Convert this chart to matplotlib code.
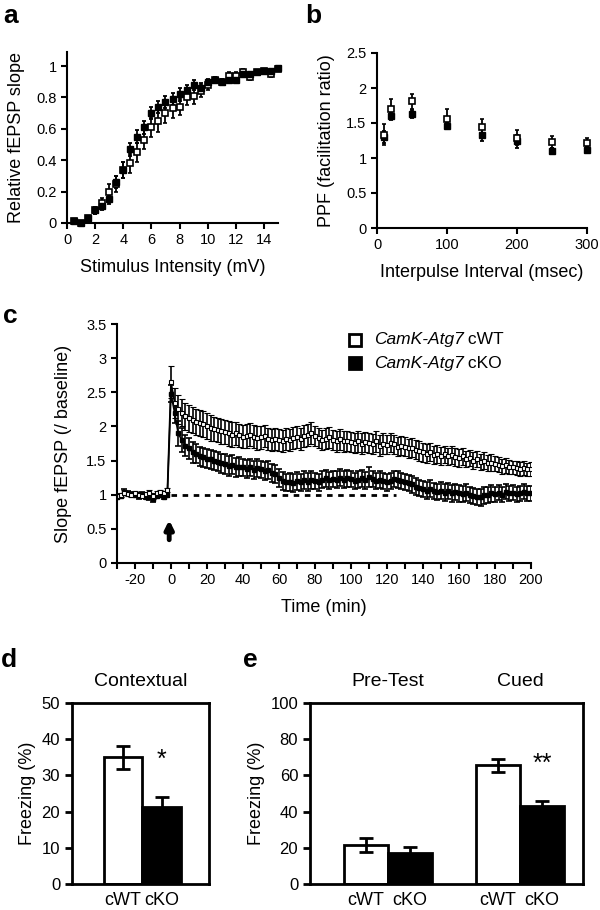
import numpy as np
import matplotlib
matplotlib.use('Agg')
import matplotlib.pyplot as plt

plt.rcParams['font.family'] = ['Liberation Sans', 'DejaVu Sans']
plt.rcParams['axes.unicode_minus'] = False

# ---- a: input/output curve ----
stim_mv = [0.5, 1.0, 1.5, 2.0, 2.5, 3.0, 3.5, 4.0, 4.5, 5.0, 5.5, 6.0, 6.5, 7.0, 7.5,
           8.0, 8.5, 9.0, 9.5, 10.0, 10.5, 11.0, 11.5, 12.0, 12.5, 13.0, 13.5, 14.0, 14.5, 15.0]
wt_io = [0.01, 0.00, 0.03, 0.08, 0.13, 0.20, 0.25, 0.34, 0.38, 0.45, 0.53, 0.61, 0.65, 0.70, 0.73,
         0.74, 0.80, 0.81, 0.84, 0.88, 0.91, 0.90, 0.94, 0.94, 0.96, 0.93, 0.96, 0.97, 0.95, 0.98]
wt_io_err = [0.01, 0.01, 0.01, 0.02, 0.03, 0.05, 0.05, 0.05, 0.06, 0.06, 0.06, 0.06, 0.07, 0.06, 0.06,
             0.05, 0.05, 0.05, 0.04, 0.03, 0.02, 0.02, 0.02, 0.02, 0.02, 0.02, 0.01, 0.01, 0.02, 0.01]
ko_io = [0.01, 0.00, 0.03, 0.08, 0.11, 0.15, 0.26, 0.34, 0.47, 0.55, 0.61, 0.70, 0.74, 0.77, 0.79,
         0.82, 0.85, 0.88, 0.86, 0.90, 0.91, 0.90, 0.91, 0.91, 0.95, 0.95, 0.96, 0.97, 0.97, 0.99]
ko_io_err = [0.01, 0.01, 0.01, 0.02, 0.03, 0.03, 0.04, 0.05, 0.04, 0.04, 0.04, 0.04, 0.04, 0.04, 0.04,
             0.04, 0.03, 0.03, 0.03, 0.02, 0.02, 0.02, 0.02, 0.02, 0.02, 0.01, 0.01, 0.01, 0.01, 0.01]

# ---- b: paired-pulse facilitation ----
ipi = [10, 20, 50, 100, 150, 200, 250, 300]
wt_ppf = [1.33, 1.70, 1.81, 1.56, 1.45, 1.29, 1.23, 1.22]
wt_ppf_err = [0.15, 0.14, 0.11, 0.14, 0.11, 0.11, 0.09, 0.06]
ko_ppf = [1.30, 1.60, 1.63, 1.46, 1.33, 1.24, 1.10, 1.12]
ko_ppf_err = [0.09, 0.05, 0.06, 0.05, 0.08, 0.09, 0.04, 0.04]

# ---- c: LTP time course (every 2 min) ----
t_base = list(range(-30, 0, 2))
t_post = list(range(0, 201, 2))
wt_base = [0.98, 1.00, 1.03, 1.01, 0.99, 1.02, 1.00, 0.98, 1.01, 1.03, 0.98, 1.02, 1.04, 1.03, 1.07]
ko_base = [0.97, 0.98, 1.04, 1.02, 1.01, 0.99, 0.98, 1.01, 0.97, 0.96, 0.93, 0.98, 0.99, 0.97, 1.00]
base_err = [0.03, 0.03, 0.04, 0.03, 0.03, 0.03, 0.04, 0.03, 0.03, 0.04, 0.04, 0.03, 0.03, 0.03, 0.03]
wt_post = [2.65, 2.35, 2.25, 2.20, 2.15, 2.12, 2.10, 2.07, 2.05, 2.03,
           2.00, 1.98, 1.96, 1.95, 1.93, 1.92, 1.90, 1.88, 1.90, 1.87,
           1.85, 1.86, 1.88, 1.85, 1.83, 1.84, 1.86, 1.82, 1.80, 1.82,
           1.80, 1.79, 1.82, 1.80, 1.83, 1.85, 1.82, 1.86, 1.88, 1.90,
           1.86, 1.83, 1.80, 1.82, 1.84, 1.80, 1.78, 1.81, 1.78, 1.79,
           1.77, 1.76, 1.78, 1.75, 1.77, 1.76, 1.74, 1.78, 1.72, 1.75,
           1.73, 1.76, 1.74, 1.70, 1.72, 1.70, 1.68, 1.69, 1.66, 1.64,
           1.62, 1.60, 1.63, 1.58, 1.60, 1.57, 1.59, 1.56, 1.58, 1.55,
           1.54, 1.56, 1.52, 1.54, 1.50, 1.52, 1.48, 1.50, 1.46, 1.47,
           1.45, 1.44, 1.42, 1.43, 1.41, 1.40, 1.39, 1.38, 1.39, 1.37,
           1.38]
wt_post_err = [0.23, 0.22, 0.21, 0.20, 0.20, 0.20, 0.19, 0.19, 0.19, 0.19,
               0.19, 0.19, 0.18, 0.18, 0.18, 0.18, 0.18, 0.18, 0.17, 0.17,
               0.17, 0.17, 0.17, 0.17, 0.17, 0.17, 0.16, 0.16, 0.16, 0.16,
               0.16, 0.16, 0.16, 0.16, 0.16, 0.16, 0.16, 0.16, 0.16, 0.16,
               0.15, 0.15, 0.15, 0.15, 0.15, 0.15, 0.15, 0.15, 0.15, 0.15,
               0.15, 0.15, 0.15, 0.15, 0.15, 0.15, 0.15, 0.15, 0.15, 0.15,
               0.14, 0.14, 0.14, 0.14, 0.14, 0.14, 0.14, 0.14, 0.14, 0.14,
               0.14, 0.14, 0.13, 0.13, 0.13, 0.13, 0.13, 0.13, 0.13, 0.13,
               0.13, 0.13, 0.12, 0.12, 0.12, 0.12, 0.12, 0.12, 0.12, 0.12,
               0.11, 0.11, 0.11, 0.11, 0.10, 0.10, 0.10, 0.10, 0.10, 0.10,
               0.10]
ko_post = [2.48, 2.20, 1.90, 1.80, 1.72, 1.68, 1.62, 1.60, 1.56, 1.55,
           1.53, 1.52, 1.50, 1.48, 1.46, 1.45, 1.42, 1.44, 1.40, 1.41,
           1.40, 1.38, 1.40, 1.36, 1.39, 1.37, 1.35, 1.36, 1.32, 1.30,
           1.25, 1.20, 1.18, 1.19, 1.17, 1.20, 1.18, 1.21, 1.19, 1.22,
           1.20, 1.18, 1.22, 1.24, 1.21, 1.23, 1.22, 1.25, 1.22, 1.24,
           1.23, 1.20, 1.22, 1.24, 1.21, 1.26, 1.23, 1.20, 1.22, 1.20,
           1.18, 1.20, 1.23, 1.22, 1.20, 1.19, 1.17, 1.15, 1.12, 1.10,
           1.08, 1.06, 1.09, 1.05, 1.04, 1.06, 1.03, 1.05, 1.02, 1.04,
           1.02, 1.01, 1.03, 1.00, 0.98, 0.97, 0.96, 0.99, 1.00, 1.02,
           1.01, 1.03, 1.00, 1.04, 1.02, 1.03, 1.01, 1.02, 1.04, 1.02,
           1.02]
ko_post_err = [0.12, 0.15, 0.18, 0.17, 0.16, 0.15, 0.15, 0.14, 0.14, 0.14,
               0.14, 0.14, 0.14, 0.14, 0.14, 0.14, 0.14, 0.14, 0.14, 0.14,
               0.13, 0.13, 0.13, 0.13, 0.13, 0.13, 0.13, 0.13, 0.13, 0.13,
               0.13, 0.13, 0.13, 0.13, 0.13, 0.13, 0.13, 0.13, 0.13, 0.13,
               0.12, 0.12, 0.12, 0.12, 0.12, 0.12, 0.12, 0.12, 0.12, 0.12,
               0.12, 0.12, 0.12, 0.12, 0.12, 0.14, 0.12, 0.12, 0.12, 0.12,
               0.12, 0.12, 0.12, 0.12, 0.12, 0.12, 0.12, 0.12, 0.12, 0.12,
               0.12, 0.12, 0.12, 0.12, 0.12, 0.12, 0.12, 0.12, 0.12, 0.12,
               0.12, 0.12, 0.12, 0.12, 0.12, 0.12, 0.12, 0.12, 0.12, 0.12,
               0.11, 0.11, 0.11, 0.11, 0.11, 0.11, 0.11, 0.11, 0.11, 0.11,
               0.11]

# ---- d/e: fear conditioning ----
ctx_labels = ['cWT', 'cKO']
ctx_freeze = [35.0, 21.3]
ctx_err = [3.2, 2.7]
cue_labels = ['cWT', 'cKO', 'cWT', 'cKO']
cue_groups = ['Pre-Test', 'Cued']
cue_freeze = [21.5, 17.0, 65.5, 43.0]
cue_err = [4.0, 3.3, 3.5, 3.0]

LBL = 13
TCK = 10.5

fig = plt.figure(figsize=(6, 9.1), dpi=100)


def px_axes(l, t, r, b):
    W, H = 600.0, 910.0
    return fig.add_axes([l / W, 1 - b / H, (r - l) / W, (b - t) / H])


def open_style(ax, lw=1.5):
    for s in ['top', 'right']:
        ax.spines[s].set_visible(False)
    for s in ['left', 'bottom']:
        ax.spines[s].set_linewidth(lw)
    ax.tick_params(direction='out', width=lw, length=4, labelsize=TCK, colors='k')


# panel a
ax = px_axes(67, 52, 278, 223)
open_style(ax)
ax.errorbar(stim_mv, wt_io, yerr=wt_io_err, fmt='s', color='k', mfc='white', ms=4.5, mew=1.2,
            elinewidth=1.3, capsize=1.5, capthick=1.3, clip_on=False)
ax.errorbar(stim_mv, ko_io, yerr=ko_io_err, fmt='s', color='k', mfc='k', ms=5,
            elinewidth=1.3, capsize=1.5, capthick=1.3, clip_on=False)
ax.set_xlim(0, 15)
ax.set_ylim(0, 1.09)
ax.set_xticks(range(0, 15, 2))
ax.set_yticks([0, 0.2, 0.4, 0.6, 0.8, 1.0])
ax.set_yticklabels(['0', '0.2', '0.4', '0.6', '0.8', '1'])
ax.set_xlabel('Stimulus Intensity (mV)', fontsize=LBL, labelpad=8)
ax.set_ylabel('Relative fEPSP slope', fontsize=LBL, labelpad=8)

# panel b
ax = px_axes(377, 53, 587, 228)
open_style(ax)
ax.errorbar(ipi, ko_ppf, yerr=ko_ppf_err, fmt='s', color='k', mfc='k', ms=5,
            elinewidth=1.3, capsize=1.5, capthick=1.3, clip_on=False)
ax.errorbar(ipi, wt_ppf, yerr=wt_ppf_err, fmt='s', color='k', mfc='white', ms=5, mew=1.2,
            elinewidth=1.3, capsize=1.5, capthick=1.3, clip_on=False)
ax.set_xlim(0, 300)
ax.set_ylim(0, 2.5)
ax.set_xticks([0, 100, 200, 300])
ax.set_yticks([0, 0.5, 1, 1.5, 2, 2.5])
ax.set_yticklabels(['0', '0.5', '1', '1.5', '2', '2.5'])
ax.set_xlabel('Interpulse Interval (msec)', fontsize=LBL, labelpad=8)
ax.set_ylabel('PPF (facilitation ratio)', fontsize=LBL, labelpad=8)

# panel c
ax = px_axes(117, 324, 531, 563)
open_style(ax)
t_all = t_base + t_post
ax.plot([0, 125], [1, 1], color='k', lw=2, dashes=(2, 2))
ax.errorbar(t_all, ko_base + ko_post, yerr=base_err + ko_post_err, fmt='s-', color='k', mfc='k',
            ms=3, lw=1.2, elinewidth=1.2, capsize=2, capthick=1.2)
ax.errorbar(t_all, wt_base + wt_post, yerr=base_err + wt_post_err, fmt='s-', color='k', mfc='white',
            ms=3, mew=0.8, lw=1.2, elinewidth=1.2, capsize=2, capthick=1.2)
ax.annotate('', xy=(-1, 0.67), xytext=(-1, 0.30),
            arrowprops=dict(arrowstyle='-|>', lw=3.5, color='k', mutation_scale=12))
ax.set_xlim(-30, 200)
ax.set_ylim(0, 3.5)
ax.set_xticks(range(-20, 201, 20))
ax.set_xticks(range(-30, 201, 10), minor=True)
ax.tick_params(which='minor', direction='out', width=1.5, length=4)
ax.set_yticks([0, 0.5, 1, 1.5, 2, 2.5, 3, 3.5])
ax.set_yticklabels(['0', '0.5', '1', '1.5', '2', '2.5', '3', '3.5'])
ax.set_xlabel('Time (min)', fontsize=LBL, labelpad=8)
ax.set_ylabel('Slope fEPSP (/ baseline)', fontsize=LBL, labelpad=10)

# legend for c, drawn by hand to mix italic and upright text
for i, (face, grp) in enumerate([('white', 'cWT'), ('k', 'cKO')]):
    y = 0.935 - i * 0.1
    ax.plot([0.575], [y], 's', transform=ax.transAxes, ms=9, mfc=face, mec='k', mew=2, clip_on=False)
    t1 = ax.text(0.62, y, 'CamK-Atg7', style='italic', fontsize=12.5, va='center', transform=ax.transAxes)
    ax.annotate(' ' + grp, xy=(1, 0.5), xycoords=t1, va='center', ha='left', fontsize=12.5)


def bar_style(ax):
    for s in ax.spines.values():
        s.set_linewidth(2)
    ax.tick_params(axis='y', direction='out', width=2, length=5, labelsize=12)
    ax.tick_params(axis='x', length=0, labelsize=13, pad=6)


# panel d
ax = px_axes(72, 703, 209, 884)
bar_style(ax)
xd = [0, 1]
ax.bar(xd, ctx_freeze, width=1, color=['white', 'k'], edgecolor='k', lw=2)
ax.errorbar(xd, ctx_freeze, yerr=ctx_err, fmt='none', ecolor='k', elinewidth=2, capsize=5, capthick=2)
ax.text(1, 31, '*', ha='center', va='bottom', fontsize=18)
ax.set_xlim(-1.32, 2.22)
ax.set_ylim(0, 50)
ax.set_yticks(range(0, 51, 10))
ax.set_xticks(xd)
ax.set_xticklabels(ctx_labels)
ax.set_ylabel('Freezing (%)', fontsize=13, labelpad=4)
ax.set_title('Contextual', fontsize=14, pad=12)

# panel e
ax = px_axes(310, 703, 583, 884)
bar_style(ax)
xe = [0, 1, 3, 4]
ax.bar(xe, cue_freeze, width=1, color=['white', 'k', 'white', 'k'], edgecolor='k', lw=2)
ax.errorbar(xe, cue_freeze, yerr=cue_err, fmt='none', ecolor='k', elinewidth=2, capsize=5, capthick=2)
ax.text(4, 60, '**', ha='center', va='bottom', fontsize=18)
ax.set_xlim(-1.27, 4.93)
ax.set_ylim(0, 100)
ax.set_yticks(range(0, 101, 20))
ax.set_xticks(xe)
ax.set_xticklabels(cue_labels)
ax.set_ylabel('Freezing (%)', fontsize=13, labelpad=4)
for xc, g in zip([0.5, 3.5], cue_groups):
    ax.text(xc, 107, g, ha='center', va='bottom', fontsize=14, clip_on=False)

# panel letters
for x, y, s in [(3, 23, 'a'), (305, 23, 'b'), (3, 323, 'c'), (1, 667, 'd'), (243, 667, 'e')]:
    fig.text(x / 600, 1 - y / 910, s, fontsize=19, fontweight='bold', va='baseline')

fig.savefig('out.png', dpi=100)
